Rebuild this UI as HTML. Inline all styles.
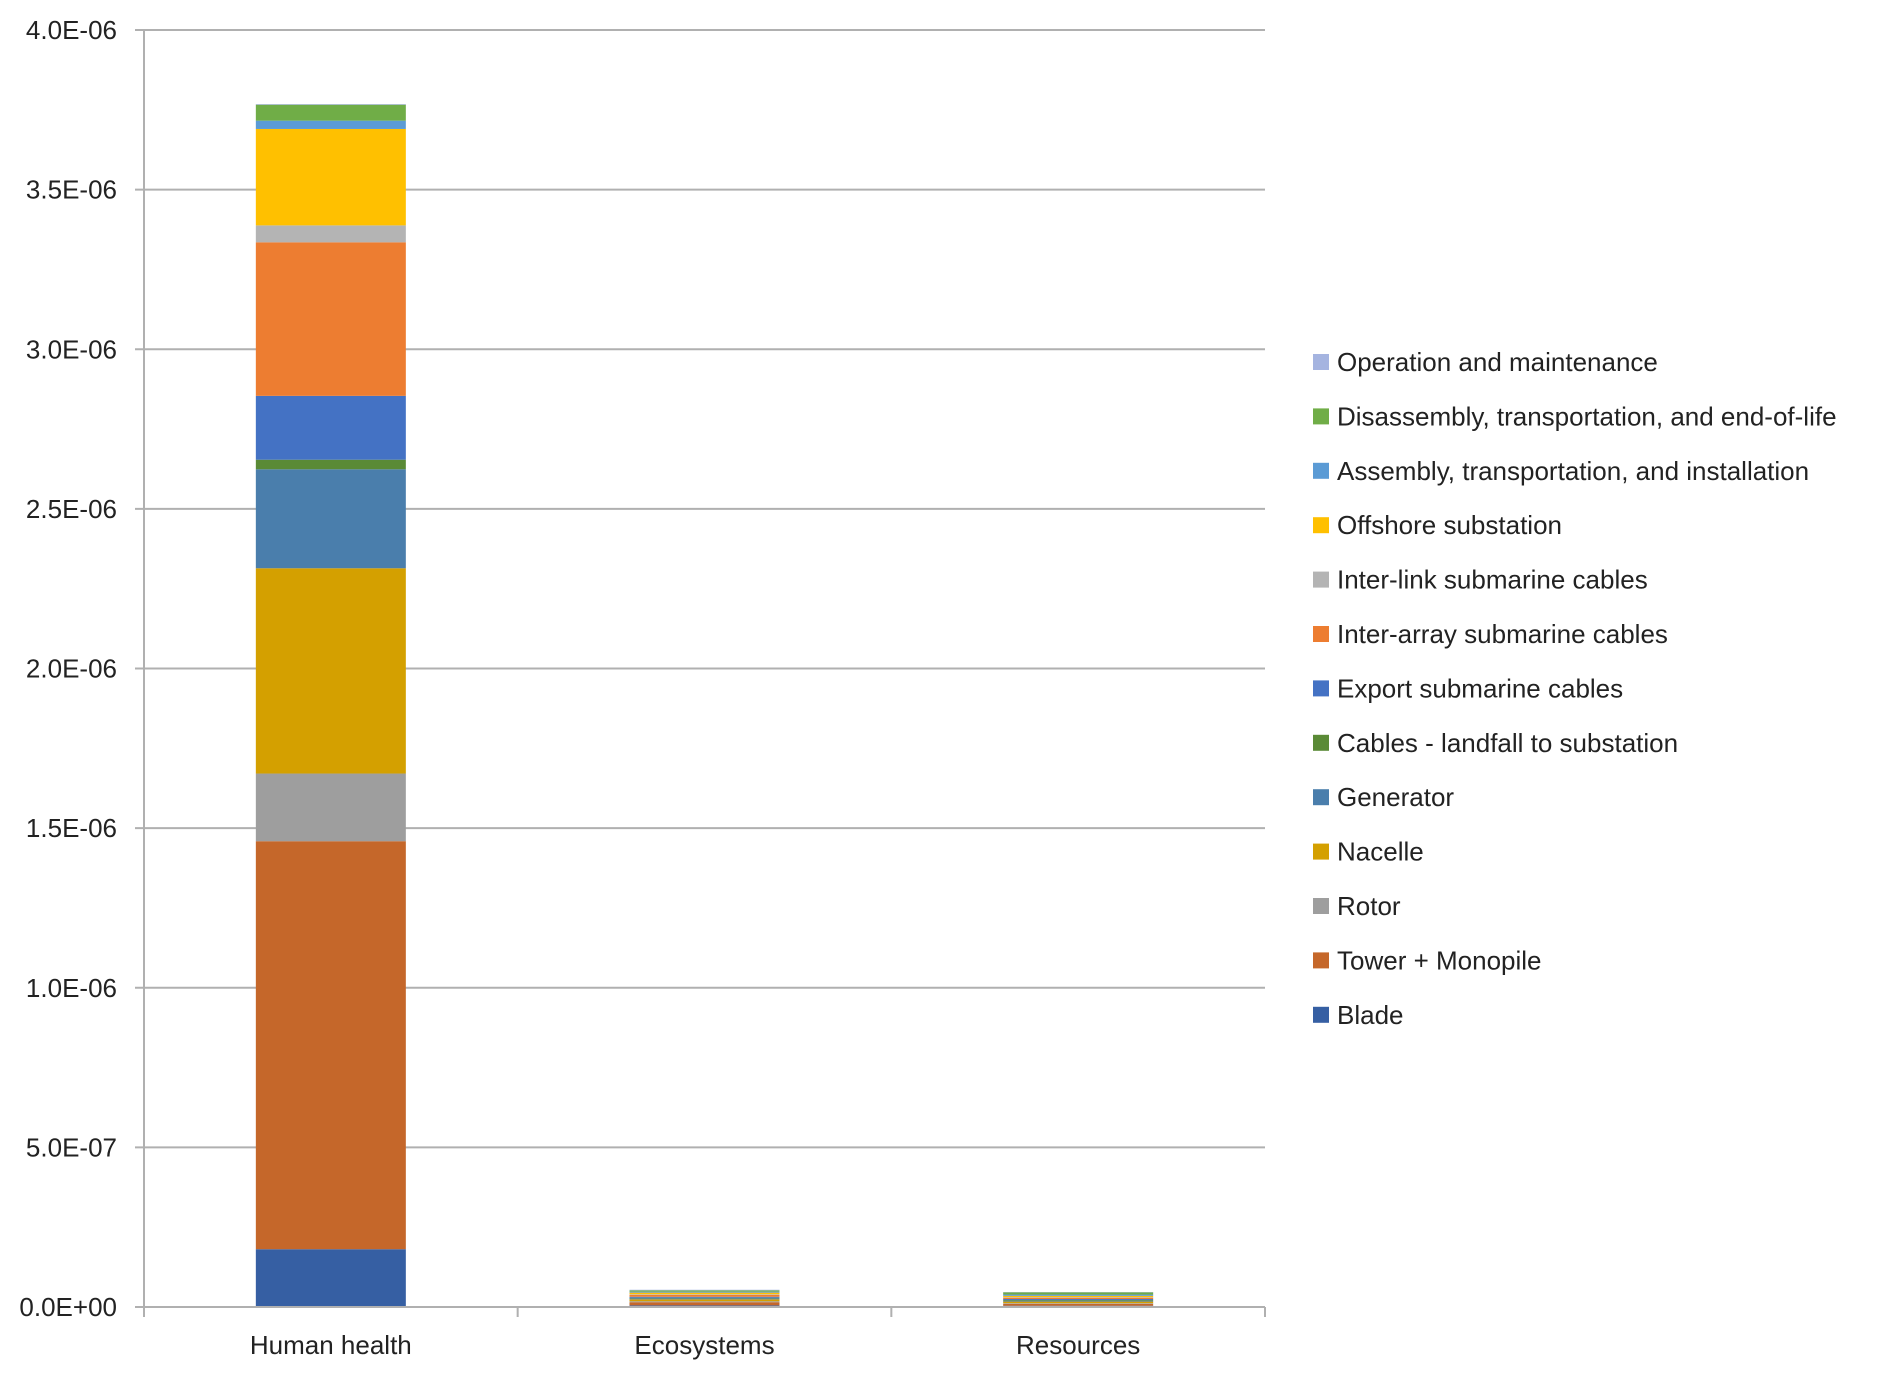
<!DOCTYPE html>
<html><head><meta charset="utf-8"><style>
body{margin:0;background:#fff}
svg text{font-family:"Liberation Sans",sans-serif;fill:#222}
</style></head><body>
<svg id="chart" width="1892" height="1379" xmlns="http://www.w3.org/2000/svg">
<g id="grid"></g>
<g id="bars"></g>
<g id="axes"></g>
<g id="legend"></g>
</svg>
<script>
const categories = ["Human health","Ecosystems","Resources"];
const seriesNames = ["Blade","Tower + Monopile","Rotor","Nacelle","Generator","Cables - landfall to substation","Export submarine cables","Inter-array submarine cables","Inter-link submarine cables","Offshore substation","Assembly, transportation, and installation","Disassembly, transportation, and end-of-life","Operation and maintenance"];
const colors = ["#365fa3","#c5672a","#9e9e9e","#d4a000","#4a7eac","#5a8a36","#4472c4","#ed7d31","#b4b4b4","#ffc000","#5b9bd5","#70ad47","#a5b4e0"];
const humanHealth = [0.181,1.278,0.212,0.643,0.310,0.030,0.200,0.481,0.053,0.302,0.026,0.050,0.002];
const ecosystems = [0.005,0.010,0.003,0.006,0.003,0.002,0.003,0.006,0.002,0.005,0.003,0.004,0.002];
const resources = [0.004,0.006,0.002,0.005,0.003,0.002,0.003,0.004,0.002,0.004,0.004,0.007,0.001];
const yTicks = [0,0.5,1.0,1.5,2.0,2.5,3.0,3.5,4.0];
const yTickLabels = ["0.0E+00","5.0E-07","1.0E-06","1.5E-06","2.0E-06","2.5E-06","3.0E-06","3.5E-06","4.0E-06"];
const values = [humanHealth, ecosystems, resources];

const NS="http://www.w3.org/2000/svg";
const X0=144, X1=1265, Y0=1307, YT=30, YMAX=4.0;
const y = v => Y0 - v/YMAX*(Y0-YT);
const bandW = (X1-X0)/categories.length;
const xc = i => X0 + bandW*(i+0.5);
const barW = 150;
function mk(tag, attrs, parent){const e=document.createElementNS(NS,tag);for(const k in attrs)e.setAttribute(k,attrs[k]);parent.appendChild(e);return e;}
const grid=document.getElementById('grid'), bars=document.getElementById('bars'), axes=document.getElementById('axes'), legend=document.getElementById('legend');
yTicks.forEach((t,i)=>{
  const l=mk('line',{x1:X0-9,x2:X1,y1:y(t),y2:y(t),stroke:'#b0b0b0','stroke-width':2},grid);
  
  
  const tx=mk('text',{x:117,y:y(t)+9,'text-anchor':'end','font-size':26},axes);
  tx.textContent=yTickLabels[i];
  
  
});
mk('line',{x1:X0,x2:X0,y1:YT,y2:Y0,stroke:'#b0b0b0','stroke-width':2},axes);
mk('line',{x1:X0,x2:X1,y1:Y0,y2:Y0,stroke:'#b0b0b0','stroke-width':2},axes);
for(let i=0;i<=categories.length;i++){mk('line',{x1:X0+bandW*i,x2:X0+bandW*i,y1:Y0,y2:Y0+10,stroke:'#b0b0b0','stroke-width':2},axes);}
categories.forEach((c,i)=>{
  let acc=0;
  values[i].forEach((v,s)=>{
    const r=mk('rect',{x:xc(i)-barW/2,y:y(acc+v),width:barW,height:Math.max(0,y(acc)-y(acc+v)),fill:colors[s]},bars);
    
    
    acc+=v;
  });
  const t=mk('text',{x:xc(i),y:1354,'text-anchor':'middle','font-size':26},axes);
  t.textContent=c;
  
  
});
for(let s=seriesNames.length-1, row=0; s>=0; s--, row++){
  const yy=362+row*54.4;
  const m=mk('rect',{x:1313,y:yy-8,width:16,height:16,fill:colors[s]},legend);
  
  
  const t=mk('text',{x:1337,y:yy+9,'font-size':26},legend);
  t.textContent=seriesNames[s];
  
  
}
</script>
</body></html>
